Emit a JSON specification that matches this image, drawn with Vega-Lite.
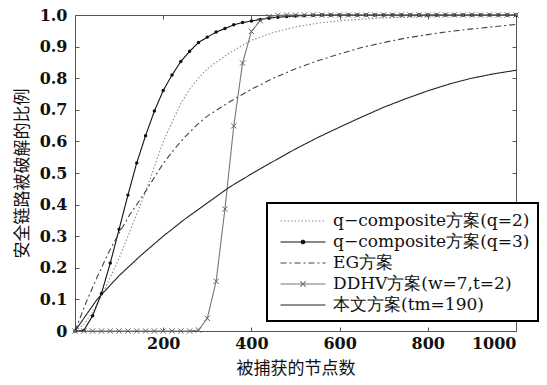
{
  "$schema": "https://vega.github.io/schema/vega-lite/v6.json",
  "width": 441,
  "height": 316,
  "autosize": {"type": "none"},
  "padding": {"left": 75, "top": 15, "right": 31, "bottom": 54},
  "background": "white",
  "config": {
    "view": {"stroke": "#555", "strokeWidth": 1},
    "font": "DejaVu Serif",
    "axis": {
      "domain": false,
      "grid": false,
      "labelFont": "DejaVu Serif",
      "labelFontSize": 16,
      "labelFontWeight": "bold",
      "labelColor": "#111",
      "tickColor": "#555",
      "tickSize": -4,
      "titleFont": "Noto Sans CJK SC",
      "titleFontSize": 17,
      "titleFontWeight": "normal",
      "titleColor": "#111"
    }
  },
  "data": {
    "values": [
      {"s": "q2", "x": 0, "y": 0}, {"s": "q2", "x": 20, "y": 0.02}, {"s": "q2", "x": 40, "y": 0.06}, {"s": "q2", "x": 60, "y": 0.11}, {"s": "q2", "x": 80, "y": 0.17}, {"s": "q2", "x": 100, "y": 0.23}, {"s": "q2", "x": 120, "y": 0.3}, {"s": "q2", "x": 140, "y": 0.37}, {"s": "q2", "x": 160, "y": 0.44}, {"s": "q2", "x": 180, "y": 0.52}, {"s": "q2", "x": 200, "y": 0.6}, {"s": "q2", "x": 220, "y": 0.66}, {"s": "q2", "x": 240, "y": 0.72}, {"s": "q2", "x": 260, "y": 0.765}, {"s": "q2", "x": 280, "y": 0.8}, {"s": "q2", "x": 300, "y": 0.83}, {"s": "q2", "x": 350, "y": 0.88}, {"s": "q2", "x": 400, "y": 0.92}, {"s": "q2", "x": 450, "y": 0.945}, {"s": "q2", "x": 500, "y": 0.962}, {"s": "q2", "x": 550, "y": 0.974}, {"s": "q2", "x": 600, "y": 0.982}, {"s": "q2", "x": 700, "y": 0.991}, {"s": "q2", "x": 800, "y": 0.996}, {"s": "q2", "x": 900, "y": 0.998}, {"s": "q2", "x": 1000, "y": 1.0},

      {"s": "q3", "x": 0, "y": 0}, {"s": "q3", "x": 20, "y": 0.002}, {"s": "q3", "x": 40, "y": 0.048}, {"s": "q3", "x": 60, "y": 0.119}, {"s": "q3", "x": 80, "y": 0.215}, {"s": "q3", "x": 100, "y": 0.322}, {"s": "q3", "x": 120, "y": 0.43}, {"s": "q3", "x": 140, "y": 0.532}, {"s": "q3", "x": 160, "y": 0.618}, {"s": "q3", "x": 180, "y": 0.696}, {"s": "q3", "x": 200, "y": 0.761}, {"s": "q3", "x": 220, "y": 0.81}, {"s": "q3", "x": 240, "y": 0.853}, {"s": "q3", "x": 260, "y": 0.885}, {"s": "q3", "x": 280, "y": 0.913}, {"s": "q3", "x": 300, "y": 0.93}, {"s": "q3", "x": 320, "y": 0.946}, {"s": "q3", "x": 340, "y": 0.957}, {"s": "q3", "x": 360, "y": 0.969}, {"s": "q3", "x": 380, "y": 0.976}, {"s": "q3", "x": 400, "y": 0.981}, {"s": "q3", "x": 420, "y": 0.986}, {"s": "q3", "x": 440, "y": 0.99}, {"s": "q3", "x": 460, "y": 0.993}, {"s": "q3", "x": 480, "y": 0.995}, {"s": "q3", "x": 500, "y": 0.997}, {"s": "q3", "x": 520, "y": 0.998}, {"s": "q3", "x": 540, "y": 0.999}, {"s": "q3", "x": 560, "y": 1.0}, {"s": "q3", "x": 580, "y": 1.0}, {"s": "q3", "x": 600, "y": 1.0}, {"s": "q3", "x": 620, "y": 1.0}, {"s": "q3", "x": 640, "y": 1.0}, {"s": "q3", "x": 660, "y": 1.0}, {"s": "q3", "x": 680, "y": 1.0}, {"s": "q3", "x": 700, "y": 1.0}, {"s": "q3", "x": 720, "y": 1.0}, {"s": "q3", "x": 740, "y": 1.0}, {"s": "q3", "x": 760, "y": 1.0}, {"s": "q3", "x": 780, "y": 1.0}, {"s": "q3", "x": 800, "y": 1.0}, {"s": "q3", "x": 820, "y": 1.0}, {"s": "q3", "x": 840, "y": 1.0}, {"s": "q3", "x": 860, "y": 1.0}, {"s": "q3", "x": 880, "y": 1.0}, {"s": "q3", "x": 900, "y": 1.0}, {"s": "q3", "x": 920, "y": 1.0}, {"s": "q3", "x": 940, "y": 1.0}, {"s": "q3", "x": 960, "y": 1.0}, {"s": "q3", "x": 980, "y": 1.0}, {"s": "q3", "x": 1000, "y": 1.0},

      {"s": "EG", "x": 0, "y": 0}, {"s": "EG", "x": 25, "y": 0.09}, {"s": "EG", "x": 50, "y": 0.17}, {"s": "EG", "x": 75, "y": 0.245}, {"s": "EG", "x": 100, "y": 0.31}, {"s": "EG", "x": 125, "y": 0.37}, {"s": "EG", "x": 150, "y": 0.42}, {"s": "EG", "x": 175, "y": 0.475}, {"s": "EG", "x": 200, "y": 0.53}, {"s": "EG", "x": 225, "y": 0.575}, {"s": "EG", "x": 250, "y": 0.615}, {"s": "EG", "x": 275, "y": 0.65}, {"s": "EG", "x": 300, "y": 0.68}, {"s": "EG", "x": 350, "y": 0.725}, {"s": "EG", "x": 400, "y": 0.765}, {"s": "EG", "x": 450, "y": 0.8}, {"s": "EG", "x": 500, "y": 0.83}, {"s": "EG", "x": 550, "y": 0.855}, {"s": "EG", "x": 600, "y": 0.877}, {"s": "EG", "x": 650, "y": 0.897}, {"s": "EG", "x": 700, "y": 0.913}, {"s": "EG", "x": 750, "y": 0.927}, {"s": "EG", "x": 800, "y": 0.938}, {"s": "EG", "x": 850, "y": 0.948}, {"s": "EG", "x": 900, "y": 0.956}, {"s": "EG", "x": 950, "y": 0.963}, {"s": "EG", "x": 1000, "y": 0.97},

      {"s": "DDHV", "x": 0, "y": 0}, {"s": "DDHV", "x": 20, "y": 0}, {"s": "DDHV", "x": 40, "y": 0}, {"s": "DDHV", "x": 60, "y": 0}, {"s": "DDHV", "x": 80, "y": 0}, {"s": "DDHV", "x": 100, "y": 0}, {"s": "DDHV", "x": 120, "y": 0}, {"s": "DDHV", "x": 140, "y": 0}, {"s": "DDHV", "x": 160, "y": 0}, {"s": "DDHV", "x": 180, "y": 0}, {"s": "DDHV", "x": 200, "y": 0}, {"s": "DDHV", "x": 220, "y": 0}, {"s": "DDHV", "x": 240, "y": 0}, {"s": "DDHV", "x": 260, "y": 0}, {"s": "DDHV", "x": 280, "y": 0.003}, {"s": "DDHV", "x": 300, "y": 0.04}, {"s": "DDHV", "x": 320, "y": 0.157}, {"s": "DDHV", "x": 340, "y": 0.386}, {"s": "DDHV", "x": 360, "y": 0.649}, {"s": "DDHV", "x": 380, "y": 0.848}, {"s": "DDHV", "x": 400, "y": 0.948}, {"s": "DDHV", "x": 420, "y": 0.982}, {"s": "DDHV", "x": 440, "y": 0.995}, {"s": "DDHV", "x": 460, "y": 0.999}, {"s": "DDHV", "x": 480, "y": 1.0}, {"s": "DDHV", "x": 500, "y": 1.0}, {"s": "DDHV", "x": 520, "y": 1.0}, {"s": "DDHV", "x": 540, "y": 1.0}, {"s": "DDHV", "x": 560, "y": 1.0}, {"s": "DDHV", "x": 580, "y": 1.0}, {"s": "DDHV", "x": 600, "y": 1.0}, {"s": "DDHV", "x": 620, "y": 1.0}, {"s": "DDHV", "x": 640, "y": 1.0}, {"s": "DDHV", "x": 660, "y": 1.0}, {"s": "DDHV", "x": 680, "y": 1.0}, {"s": "DDHV", "x": 700, "y": 1.0}, {"s": "DDHV", "x": 720, "y": 1.0}, {"s": "DDHV", "x": 740, "y": 1.0}, {"s": "DDHV", "x": 760, "y": 1.0}, {"s": "DDHV", "x": 780, "y": 1.0}, {"s": "DDHV", "x": 800, "y": 1.0}, {"s": "DDHV", "x": 820, "y": 1.0}, {"s": "DDHV", "x": 840, "y": 1.0}, {"s": "DDHV", "x": 860, "y": 1.0}, {"s": "DDHV", "x": 880, "y": 1.0}, {"s": "DDHV", "x": 900, "y": 1.0}, {"s": "DDHV", "x": 920, "y": 1.0}, {"s": "DDHV", "x": 940, "y": 1.0}, {"s": "DDHV", "x": 960, "y": 1.0}, {"s": "DDHV", "x": 980, "y": 1.0}, {"s": "DDHV", "x": 1000, "y": 1.0},

      {"s": "ours", "x": 0, "y": 0}, {"s": "ours", "x": 50, "y": 0.1}, {"s": "ours", "x": 100, "y": 0.175}, {"s": "ours", "x": 150, "y": 0.24}, {"s": "ours", "x": 200, "y": 0.3}, {"s": "ours", "x": 250, "y": 0.355}, {"s": "ours", "x": 300, "y": 0.405}, {"s": "ours", "x": 350, "y": 0.455}, {"s": "ours", "x": 400, "y": 0.497}, {"s": "ours", "x": 450, "y": 0.537}, {"s": "ours", "x": 500, "y": 0.576}, {"s": "ours", "x": 550, "y": 0.612}, {"s": "ours", "x": 600, "y": 0.645}, {"s": "ours", "x": 650, "y": 0.677}, {"s": "ours", "x": 700, "y": 0.708}, {"s": "ours", "x": 750, "y": 0.735}, {"s": "ours", "x": 800, "y": 0.76}, {"s": "ours", "x": 850, "y": 0.782}, {"s": "ours", "x": 900, "y": 0.8}, {"s": "ours", "x": 950, "y": 0.814}, {"s": "ours", "x": 1000, "y": 0.825}
    ]
  },
  "layer": [
    {
      "mark": {"type": "line", "strokeWidth": 1.1},
      "encoding": {
        "x": {
          "field": "x", "type": "quantitative",
          "scale": {"domain": [0, 1000], "nice": false, "zero": false},
          "axis": {"orient": "bottom", "values": [200, 400, 600, 800, 1000], "format": "d", "title": "被捕获的节点数", "labelPadding": 8, "titlePadding": 9}
        },
        "y": {
          "field": "y", "type": "quantitative",
          "scale": {"domain": [0, 1], "nice": false},
          "axis": {"orient": "left", "values": [0, 0.1, 0.2, 0.3, 0.4, 0.5, 0.6, 0.7, 0.8, 0.9, 1.0], "labelExpr": "datum.value == 0 ? '0' : format(datum.value, '.1f')", "title": "安全链路被破解的比例", "labelPadding": 12, "titlePadding": 8}
        },
        "color": {
          "field": "s", "type": "nominal",
          "scale": {"domain": ["q2", "q3", "EG", "DDHV", "ours"], "range": ["#8a8a8a", "#111111", "#444444", "#777777", "#222222"]},
          "legend": {
            "orient": "none",
            "legendX": 192,
            "legendY": 188,
            "title": null,
            "strokeColor": "#000",
            "fillColor": "#ffffff",
            "padding": 8,
            "symbolSize": 324,
            "symbolOffset": 18,
            "symbolStrokeWidth": 1.1,
            "labelOffset": 20,
            "labelLimit": 0,
            "labelFont": "DejaVu Serif",
            "labelFontSize": 17,
            "labelColor": "#111",
            "rowPadding": 3,
            "labelExpr": "datum.value == 'q2' ? 'q−composite方案(q=2)' : datum.value == 'q3' ? 'q−composite方案(q=3)' : datum.value == 'EG' ? 'EG方案' : datum.value == 'DDHV' ? 'DDHV方案(w=7,t=2)' : '本文方案(tm=190)'",
            "encode": {
              "symbols": {
                "update": {
                  "shape": {"signal": "datum.value == 'q3' ? 'M-2.5,0H2.5M-0.2,0A0.2,0.2,0,1,0,0.2,0A0.2,0.2,0,1,0,-0.2,0' : datum.value == 'DDHV' ? 'M-2.5,0H2.5M-0.3,-0.3L0.3,0.3M-0.3,0.3L0.3,-0.3' : 'M-2.5,0H2.5'"},
                  "fill": {"signal": "datum.value == 'q3' ? '#111' : 'transparent'"}
                }
              },
              "legend": {"update": {"strokeWidth": {"value": 2}}}
            }
          }
        },
        "strokeDash": {
          "field": "s", "type": "nominal",
          "scale": {"domain": ["q2", "q3", "EG", "DDHV", "ours"], "range": [[1.5, 2], [1, 0], [6, 3, 2, 3], [1, 0], [1, 0]]},
          "legend": null
        }
      }
    },
    {
      "transform": [{"filter": "datum.s == 'q3'"}],
      "mark": {"type": "point", "filled": true, "shape": "circle", "size": 12, "color": "#111", "opacity": 1},
      "encoding": {
        "x": {"field": "x", "type": "quantitative", "axis": null},
        "y": {"field": "y", "type": "quantitative", "axis": null}
      }
    },
    {
      "transform": [{"filter": "datum.s == 'DDHV'"}],
      "mark": {"type": "point", "filled": false, "shape": "M-1,-1L1,1M-1,1L1,-1", "size": 28, "color": "#666", "strokeWidth": 1, "opacity": 1},
      "encoding": {
        "x": {"field": "x", "type": "quantitative", "axis": {"orient": "top", "values": [200, 400, 600, 800, 1000], "labels": false, "title": null}},
        "y": {"field": "y", "type": "quantitative", "axis": {"orient": "right", "values": [0.1, 0.2, 0.3, 0.4, 0.5, 0.6, 0.7, 0.8, 0.9], "labels": false, "title": null}}
      }
    }
  ],
  "resolve": {"axis": {"x": "independent", "y": "independent"}}
}
